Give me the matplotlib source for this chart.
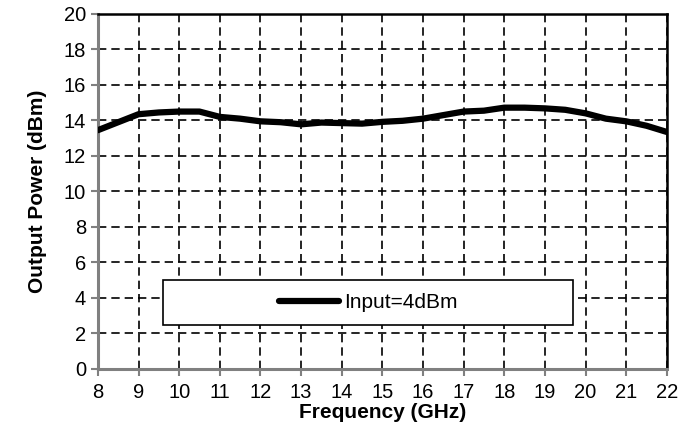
import matplotlib.pyplot as plt
from matplotlib.patches import Rectangle

plt.rcParams['font.family'] = ['Liberation Sans', 'DejaVu Sans']

# data
freq = [8, 8.5, 9, 9.5, 10, 10.5, 11, 11.5, 12, 12.5, 13, 13.5, 14, 14.5, 15,
        15.5, 16, 16.5, 17, 17.5, 18, 18.5, 19, 19.5, 20, 20.5, 21, 21.5, 22]
pout = [13.45, 13.9, 14.35, 14.45, 14.5, 14.5, 14.2, 14.1, 13.95, 13.9, 13.78, 13.88, 13.85, 13.82, 13.92,
        13.98, 14.1, 14.3, 14.5, 14.55, 14.72, 14.72, 14.68, 14.6, 14.4, 14.1, 13.95, 13.7, 13.35]
label = 'Input=4dBm'

fig = plt.figure(figsize=(6.99, 4.37), dpi=100)
ax = fig.add_axes([0.140, 0.156, 0.814, 0.812])

ax.plot(freq, pout, color='black', linewidth=4.5, solid_capstyle='round', label=label, zorder=3)

ax.set_xlim(8, 22)
ax.set_ylim(0, 20)
ax.set_xticks(range(8, 23))
ax.set_yticks(range(0, 21, 2))
ax.grid(True, color='black', linestyle=(0, (5, 3)), linewidth=1.2)

for s in ['top', 'right']:
    ax.spines[s].set_color('black')
    ax.spines[s].set_linewidth(1.8)
for s in ['left', 'bottom']:
    ax.spines[s].set_color('#808080')
    ax.spines[s].set_linewidth(2.2)
ax.tick_params(direction='out', length=5, width=1.5, color='#808080', labelsize=14.5)
ax.tick_params(axis='x', pad=5)

ax.set_xlabel('Frequency (GHz)', fontsize=15, fontweight='bold', labelpad=1)
ax.set_ylabel('Output Power (dBm)', fontsize=15, fontweight='bold', labelpad=12)

# legend box
ax.add_patch(Rectangle((9.6, 2.45), 10.1, 2.55, facecolor='white', edgecolor='black', linewidth=1.2, zorder=4))
leg = ax.legend(loc='center', bbox_to_anchor=(14.65, 3.72), bbox_transform=ax.transData,
                frameon=False, fontsize=15, handlelength=2.9, handletextpad=0.25)
leg.set_zorder(5)

fig.savefig('out.png', dpi=100)
